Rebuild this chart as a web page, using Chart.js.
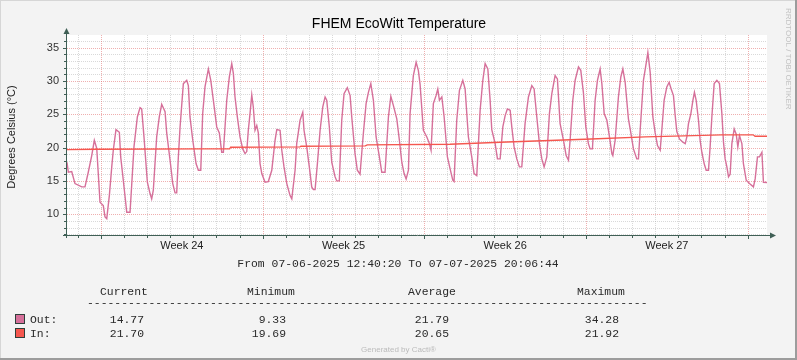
<!DOCTYPE html>
<html>
<head>
<meta charset="utf-8">
<title>FHEM EcoWitt Temperature</title>
<script src="https://cdn.jsdelivr.net/npm/chart.js@4.4.1/dist/chart.umd.min.js"></script>
<style>
  body { margin: 0; background: #f3f3f3; }
  canvas { display: block; }
</style>
</head>
<body>
<canvas id="rrd" width="797" height="360"></canvas>
<script>
// time axis: hours since 07-06-2025 12:40:20
const spanHours = 727.4;
const mondayHours = [35.33, 203.33, 371.33, 539.33, 707.33];
const weekLabels = ['Week 24', 'Week 25', 'Week 26', 'Week 27'];
const yTicks = [10, 15, 20, 25, 30, 35];
const yMin = 6.88;
const yMax = 36.9;

// outdoor sensor
const outHours = [
    0, 1.4, 4.9, 8.3, 15.3, 18.7, 22.1, 25.7, 28.4, 30.9, 32.5, 34.3, 37.7, 39.5, 41.3,
    44.0, 46.5, 48.1, 50.9, 54.4, 55.8, 58.5, 62.1, 65.5,
    67.2, 69.6, 73.1, 75.9, 77.6, 80.0, 83.5, 86.3, 88.0, 89.7,
    93.2, 95.9, 98.4, 101.9, 103.6, 107.1, 109.9, 112.3, 114.0,
    115.7, 117.5, 120.9, 124.4, 126.1, 127.8, 130.7, 134.1, 136.5, 139.0,
    141.0, 143.4, 146.9, 149.4, 152.1, 155.6, 158.3, 160.8, 162.5,
    166.0, 168.7, 171.2, 172.9, 174.6, 177.0, 179.8, 182.6, 185.0, 186.8,
    188.4, 190.2, 192.0, 193.6, 195.4, 197.2, 198.8, 200.6, 202.4, 205.8, 209.2,
    212.8, 216.2, 218.0, 221.4, 223.2, 225.5, 228.4, 231.8, 233.6,
    237.0, 238.7, 242.2, 245.0, 246.3, 249.1, 251.8, 254.3, 256.0, 257.8,
    260.2, 263.0, 265.8, 268.2, 269.9, 272.6, 275.1, 278.6, 280.3, 283.0,
    285.5, 287.9, 291.3, 294.2, 295.9, 299.3, 301.7, 304.5,
    308.0, 310.8, 313.2, 315.7, 318.4, 321.2, 324.6, 327.1, 330.5,
    334.0, 336.5, 339.2, 342.7, 345.4, 347.9, 350.3, 352.4, 354.8,
    356.5, 359.9, 362.8, 365.1, 366.9, 370.3, 373.9, 376.6, 378.3,
    380.7, 383.5, 385.3, 387.0, 389.5, 391.9, 393.9, 395.3, 398.1, 400.9, 402.2,
    405.0, 407.8, 411.3, 413.7, 417.1, 420.6, 423.0, 425.8,
    429.3, 432.1, 434.5, 437.3, 439.7, 441.4, 444.9, 447.3, 450.1,
    452.9, 455.3, 457.6, 460.5, 462.2, 464.6, 467.4, 470.1, 472.6,
    476.0, 479.5, 483.0, 485.4, 488.2, 490.9, 493.4, 495.8, 498.6,
    501.3, 503.8, 507.2, 509.6, 512.4, 515.9, 518.7, 521.1,
    522.8, 525.6, 528.0, 531.5, 533.9, 536.6, 539.1, 541.8, 543.6, 546.0,
    548.8, 551.2, 554.0, 555.8, 558.2, 561.0, 563.7, 566.2, 567.2,
    569.6, 573.0, 575.5, 577.6, 580.0, 583.4, 585.9, 588.6, 592.1, 593.8,
    595.6, 599.0, 601.8, 603.6, 606.0, 608.8, 611.2, 613.6, 616.4,
    618.1, 620.5, 623.3, 625.7, 627.8, 630.2, 632.0, 633.7, 636.4, 640.0, 642.4,
    644.1, 645.8, 648.3, 650.4, 652.0, 653.8, 656.2, 657.9, 659.7, 662.1, 664.2, 666.6,
    668.3, 670.1, 672.5, 675.3, 678.0, 680.5, 682.2, 683.9, 685.7, 687.4, 689.1,
    690.9, 693.3, 695.4, 697.1, 698.8, 701.3, 702.9, 705.8, 709.2, 713.3, 715.1, 717.5, 719.6, 722.1, 723.7, 727.4
];
const outTemps = [
    17.8, 16.3, 16.4, 14.6, 14.1, 14.1, 16.3, 18.8, 21.1, 19.9, 16.1, 11.8, 11.3, 9.6, 9.33,
    12.8, 17.1, 19.6, 22.7, 22.3, 18.6, 15.1, 10.3, 10.3,
    14.3, 20.1, 24.6, 26.0, 25.8, 21.6, 14.8, 13.1, 12.3, 13.6,
    21.6, 24.6, 26.5, 25.4, 22.2, 18.1, 14.6, 13.2, 13.2,
    18.6, 23.1, 29.6, 30.1, 29.3, 24.6, 21.1, 17.6, 16.6, 16.6,
    25.1, 29.1, 31.8, 30.1, 27.1, 23.1, 22.2, 19.3, 19.3,
    27.1, 30.6, 32.6, 31.1, 27.6, 24.6, 21.6, 19.8, 19.1, 19.4,
    22.6, 25.1, 27.9, 26.1, 22.6, 23.3, 22.2, 17.6, 16.1, 14.8, 14.9,
    16.6, 21.1, 22.7, 22.6, 19.6, 17.1, 14.6, 12.8, 12.3,
    16.6, 20.6, 24.1, 25.3, 22.6, 20.1, 17.1, 14.1, 13.7, 13.7,
    17.6, 22.6, 26.1, 27.6, 27.1, 23.1, 17.8, 15.6, 15.0, 15.0,
    24.1, 28.1, 29.0, 27.8, 24.6, 19.1, 16.6, 16.0,
    22.2, 26.6, 28.3, 29.6, 27.1, 21.6, 18.6, 16.3, 16.3,
    24.6, 27.7, 26.3, 24.3, 21.1, 17.8, 16.1, 15.3, 16.6,
    25.1, 30.8, 32.8, 31.6, 29.5, 22.6, 21.6, 20.6, 19.6,
    26.6, 27.8, 28.8, 27.1, 27.6, 24.6, 21.1, 18.6, 16.8, 15.1, 14.9,
    24.1, 28.6, 30.1, 28.8, 21.6, 18.6, 16.1, 15.8,
    25.6, 30.1, 32.6, 31.8, 27.1, 22.7, 20.6, 18.3, 18.3,
    23.1, 24.8, 25.8, 25.6, 23.1, 20.1, 18.3, 17.1, 17.1,
    23.6, 27.6, 29.3, 28.8, 24.6, 20.6, 18.3, 17.1, 18.6,
    25.1, 28.1, 30.8, 30.3, 23.6, 21.1, 18.8, 18.1,
    21.1, 27.1, 30.1, 32.1, 31.6, 28.3, 23.1, 20.6, 19.8, 19.8,
    27.1, 30.1, 31.8, 29.6, 25.1, 24.1, 21.6, 19.1, 18.8,
    21.1, 27.6, 30.6, 31.8, 29.8, 24.3, 22.2, 19.8, 18.3, 18.3,
    22.6, 30.1, 32.6, 34.28, 31.3, 24.6, 22.2, 20.3, 19.6,
    22.6, 27.1, 29.1, 29.8, 28.8, 27.8, 24.8, 22.4, 21.3, 20.8, 20.6,
    21.6, 23.6, 25.1, 27.1, 28.3, 27.1, 24.1, 21.1, 19.3, 17.6, 16.6, 16.6,
    20.1, 24.6, 29.6, 30.1, 29.6, 25.1, 20.8, 18.3, 17.1, 15.6, 16.0,
    20.6, 22.8, 22.0, 20.1, 21.8, 20.6, 17.6, 15.1, 14.6, 14.1, 15.3, 18.6, 18.6, 19.3, 14.8, 14.77
];

// indoor sensor
const inHours = [0, 31, 140, 169, 170, 242, 243, 310, 312, 398, 450, 538, 601, 651, 680, 713, 715, 727.4];
const inTemps = [19.69, 19.75, 19.8, 19.8, 20.05, 20.1, 20.2, 20.25, 20.4, 20.5, 20.8, 21.25, 21.6, 21.8, 21.92, 21.92, 21.7, 21.7];

// legend table (GPRINT values)
const seriesNames = ['Out:', 'In:'];
const seriesColors = ['#d6709a', '#f5574f'];
const statHeaders = ['Current', 'Minimum', 'Average', 'Maximum'];
const statCurrent = ['14.77', '21.70'];
const statMinimum = ['9.33', '19.69'];
const statAverage = ['21.79', '20.65'];
const statMaximum = ['34.28', '21.92'];

const axisColor = '#3f5f55';
const sans = '"Liberation Sans", Arial, sans-serif';
const mono = '"Liberation Mono", "Courier New", monospace';

function toPoints(xs, ys) {
    return xs.map((h, i) => ({ x: h, y: ys[i] }));
}

function hLine(ctx, y, left, right) {
    const py = Math.round(y) + 0.5;
    ctx.beginPath();
    ctx.moveTo(left, py);
    ctx.lineTo(right, py);
    ctx.stroke();
}

function vLine(ctx, x, top, bottom) {
    const px = Math.round(x) + 0.5;
    ctx.beginPath();
    ctx.moveTo(px, top);
    ctx.lineTo(px, bottom);
    ctx.stroke();
}

const rrdLook = {
    id: 'rrdLook',
    beforeDraw(chart) {
        const { ctx, chartArea: a, width, height } = chart;
        ctx.save();
        ctx.fillStyle = '#f3f3f3';
        ctx.fillRect(0, 0, width, height);
        ctx.fillStyle = '#ffffff';
        ctx.fillRect(a.left, a.top, a.right - a.left, a.bottom - a.top);
        // 3d frame round the image
        ctx.fillStyle = '#d6d6d6';
        ctx.fillRect(0, 0, width, 1);
        ctx.fillRect(0, 0, 1, height);
        ctx.fillStyle = '#9c9c9c';
        ctx.fillRect(0, height - 2, width, 2);
        ctx.fillRect(width - 2, 0, 2, height);
        ctx.restore();
    },
    beforeDatasetsDraw(chart) {
        const { ctx, chartArea: a } = chart;
        const xs = chart.scales.x;
        const ys = chart.scales.y;
        ctx.save();
        ctx.lineWidth = 1;
        ctx.setLineDash([1, 1]);
        // minor grid: every degree, every day
        ctx.strokeStyle = 'rgba(160,160,160,0.4)';
        for (let v = Math.ceil(yMin); v <= yMax; v++) {
            if (v % 5 !== 0) hLine(ctx, ys.getPixelForValue(v), a.left, a.right);
        }
        for (let h = mondayHours[0] % 24; h < spanHours; h += 24) {
            if (!mondayHours.some((m) => Math.abs(m - h) < 0.5)) {
                vLine(ctx, xs.getPixelForValue(h), a.top, a.bottom);
            }
        }
        // major grid: every 5 degrees, every monday
        ctx.strokeStyle = 'rgba(225,110,110,0.55)';
        yTicks.forEach((v) => hLine(ctx, ys.getPixelForValue(v), a.left, a.right));
        mondayHours.forEach((h) => vLine(ctx, xs.getPixelForValue(h), a.top, a.bottom));
        ctx.restore();
    },
    afterDatasetsDraw(chart) {
        const { ctx, chartArea: a, width } = chart;
        const xs = chart.scales.x;
        const ys = chart.scales.y;
        ctx.save();

        // axes with arrows
        ctx.strokeStyle = axisColor;
        ctx.fillStyle = axisColor;
        ctx.lineWidth = 1;
        vLine(ctx, a.left - 1, a.top - 4, a.bottom + 3);
        hLine(ctx, a.bottom, a.left - 4, a.right + 5);
        ctx.beginPath();
        ctx.moveTo(a.left - 0.5, a.top - 7);
        ctx.lineTo(a.left - 3.5, a.top - 1);
        ctx.lineTo(a.left + 2.5, a.top - 1);
        ctx.closePath();
        ctx.fill();
        ctx.beginPath();
        ctx.moveTo(a.right + 9, a.bottom + 0.5);
        ctx.lineTo(a.right + 3, a.bottom - 2.5);
        ctx.lineTo(a.right + 3, a.bottom + 3.5);
        ctx.closePath();
        ctx.fill();

        // small tick marks
        for (let h = mondayHours[0] % 24; h < spanHours; h += 24) {
            const major = mondayHours.some((m) => Math.abs(m - h) < 0.5);
            vLine(ctx, xs.getPixelForValue(h), a.bottom + 1, a.bottom + (major ? 4 : 3));
        }
        for (let v = Math.ceil(yMin); v <= yMax; v++) {
            hLine(ctx, ys.getPixelForValue(v), a.left - (v % 5 ? 3 : 4), a.left - 1);
        }

        // title
        ctx.fillStyle = '#000000';
        ctx.font = '14px ' + sans;
        ctx.textAlign = 'center';
        ctx.textBaseline = 'alphabetic';
        ctx.fillText('FHEM EcoWitt Temperature', 399, 28);

        // vertical label
        ctx.save();
        ctx.translate(12, 137);
        ctx.rotate(-Math.PI / 2);
        ctx.font = '11px ' + sans;
        ctx.fillStyle = '#222222';
        ctx.textBaseline = 'middle';
        ctx.fillText('Degrees Celsius (\u00b0C)', 0, 0);
        ctx.restore();

        // watermark
        ctx.save();
        ctx.translate(788, 8);
        ctx.rotate(Math.PI / 2);
        ctx.font = '8px ' + sans;
        ctx.fillStyle = '#c2c2c2';
        ctx.textAlign = 'left';
        ctx.textBaseline = 'middle';
        ctx.fillText('RRDTOOL / TOBI OETIKER', 0, 0);
        ctx.restore();

        // legend block
        ctx.font = '11.4px ' + mono;
        ctx.fillStyle = '#2a2a2a';
        ctx.textAlign = 'center';
        ctx.fillText('From 07-06-2025 12:40:20 To 07-07-2025 20:06:44', 398, 267);

        ctx.textAlign = 'left';
        const headX = [100, 247, 408, 577];
        statHeaders.forEach((t, i) => ctx.fillText(t, headX[i], 295));
        ctx.fillText('-'.repeat(82), 87, 306);

        const valueRight = [144, 286, 449, 619];
        const rowY = [323, 337];
        const cols = [statCurrent, statMinimum, statAverage, statMaximum];
        seriesNames.forEach((name, r) => {
            const y = rowY[r];
            ctx.fillStyle = seriesColors[r];
            ctx.fillRect(15, y - 8, 9, 9);
            ctx.strokeStyle = '#2f3f3a';
            ctx.strokeRect(15.5, y - 8.5, 9, 9);
            ctx.fillStyle = '#2a2a2a';
            ctx.textAlign = 'left';
            ctx.fillText(name, 30, y);
            ctx.textAlign = 'right';
            cols.forEach((col, c) => ctx.fillText(col[r], valueRight[c], y));
        });

        ctx.font = '8px ' + sans;
        ctx.fillStyle = '#bbbbbb';
        ctx.textAlign = 'center';
        ctx.fillText('Generated by Cacti\u00ae', width / 2, 352);
        ctx.restore();
    },
};

new Chart(document.getElementById('rrd'), {
    type: 'line',
    data: {
        datasets: [{
            label: 'Out',
            data: toPoints(outHours, outTemps),
            borderColor: seriesColors[0],
            borderWidth: 1.4,
            order: 1,
        }, {
            label: 'In',
            data: toPoints(inHours, inTemps),
            borderColor: seriesColors[1],
            borderWidth: 1.3,
            order: 0,
        }],
    },
    options: {
        responsive: false,
        animation: false,
        devicePixelRatio: 1,
        layout: { padding: { left: 0, top: 35, right: 30, bottom: 105 } },
        elements: {
            point: { radius: 0 },
            line: { tension: 0, fill: false },
        },
        plugins: {
            legend: { display: false },
            tooltip: { enabled: false },
        },
        scales: {
            x: {
                type: 'linear',
                min: 0,
                max: spanHours,
                afterBuildTicks: (scale) => {
                    scale.ticks = mondayHours.slice(0, weekLabels.length).map((m) => ({ value: m + 84 }));
                },
                afterFit: (scale) => { scale.height = 20; },
                ticks: {
                    autoSkip: false,
                    maxRotation: 0,
                    padding: 4,
                    color: '#222222',
                    font: { family: sans, size: 11 },
                    callback: (v, i) => weekLabels[i],
                },
                grid: { display: false, drawTicks: false },
                border: { display: false },
            },
            y: {
                min: yMin,
                max: yMax,
                afterBuildTicks: (scale) => {
                    scale.ticks = yTicks.map((v) => ({ value: v }));
                },
                afterFit: (scale) => { scale.width = 67; },
                ticks: {
                    padding: 8,
                    color: '#333333',
                    font: { family: sans, size: 11 },
                },
                grid: { display: false, drawTicks: false },
                border: { display: false },
            },
        },
    },
    plugins: [rrdLook],
});
</script>
</body>
</html>
